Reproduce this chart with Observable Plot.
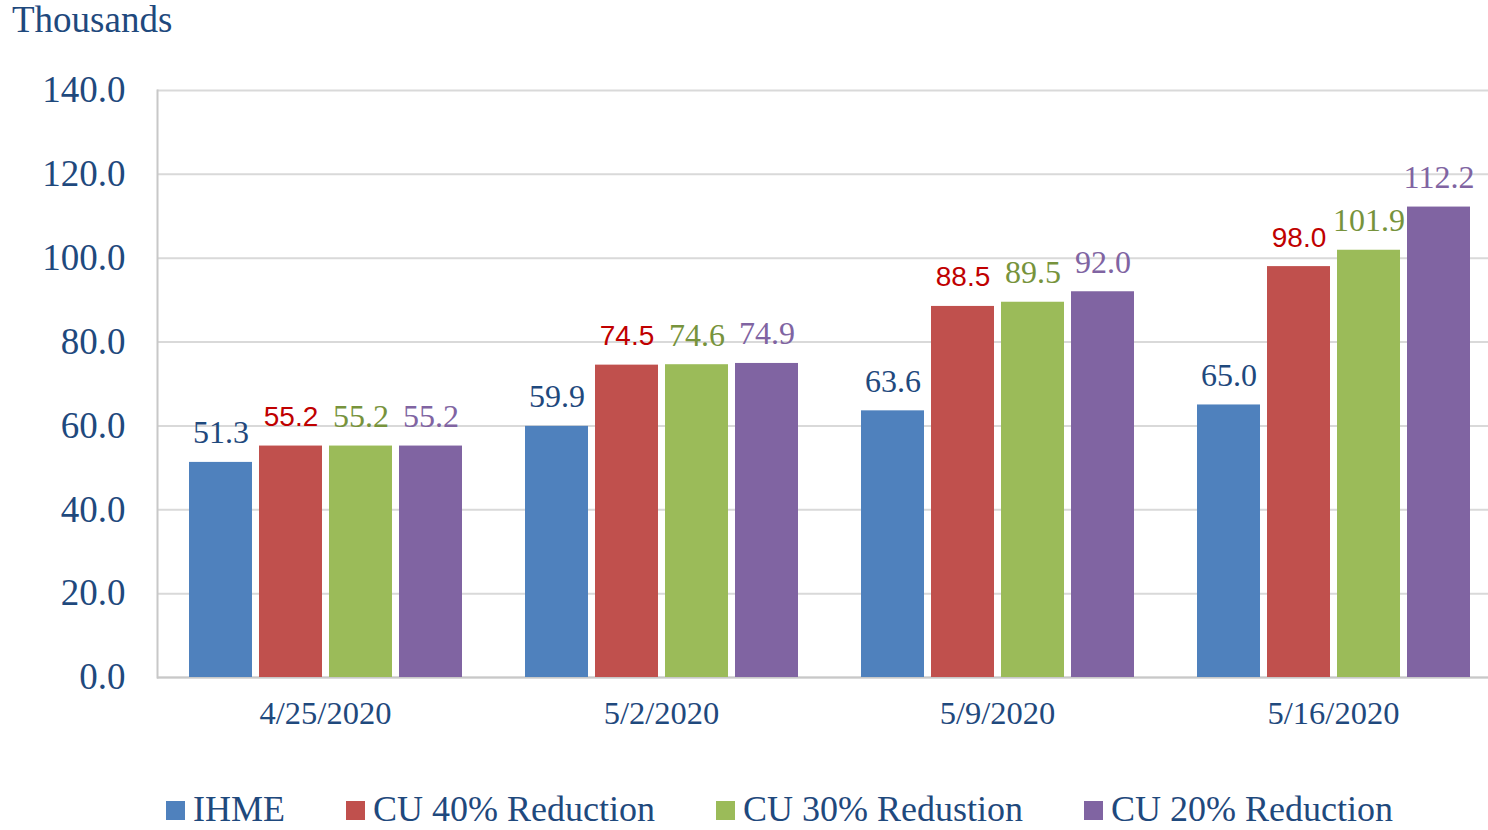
<!DOCTYPE html>
<html>
<head>
<meta charset="utf-8">
<script src="https://cdn.jsdelivr.net/npm/d3@7"></script>
<script src="https://cdn.jsdelivr.net/npm/@observablehq/plot@0.6"></script>
<style>
  html, body { margin: 0; padding: 0; background: #fff; overflow: hidden; }
  #wrap { position: relative; width: 1488px; height: 830px; overflow: hidden; font-family: "Liberation Serif", serif; color: #1F497D; }
  #unit { position: absolute; left: 12px; top: 1px; font-size: 37px; line-height: 1; }
  #chart { position: absolute; left: 0; top: 0; width: 1501px; }
  #chart svg { max-width: none !important; }
  #legend { position: absolute; left: 166px; top: 793px; display: flex; align-items: center; gap: 61px; font-size: 36px; line-height: 0.9; white-space: nowrap; }
  #legend .item { display: flex; align-items: center; }
  #legend .sw { width: 19px; height: 19px; margin-right: 8px; margin-top: 3px; }
</style>
</head>
<body>
<div id="wrap">
  <div id="chart"></div>
  <div id="unit">Thousands</div>
  <div id="legend"></div>
</div>
<script>
const dates = ["4/25/2020", "5/2/2020", "5/9/2020", "5/16/2020"];
const series = ["IHME", "CU 40% Reduction", "CU 30% Redustion", "CU 20% Reduction"];
const ihme = [51.3, 59.9, 63.6, 65.0];
const cu40 = [55.2, 74.5, 88.5, 98.0];
const cu30 = [55.2, 74.6, 89.5, 101.9];
const cu20 = [55.2, 74.9, 92.0, 112.2];
const yTicks = [0, 20, 40, 60, 80, 100, 120, 140];

const barColors = ["#4F81BD", "#C0504D", "#9BBB59", "#8064A2"];
const labelColors = ["#1F497D", "#C00000", "#77933C", "#8064A2"];
const labelFonts = ["Liberation Serif", "Liberation Sans", "Liberation Serif", "Liberation Serif"];
const labelSizes = [32, 28, 32, 32];
const labelDy = [-19, -20, -19, -19];

const valuesBySeries = [ihme, cu40, cu30, cu20];
const rows = [];
series.forEach((s, i) => dates.forEach((d, j) => rows.push({date: d, series: s, value: valuesBySeries[i][j]})));

const textColor = "#1F497D";
const gridColor = "#d9d9d9";
const axisLineColor = "#c8c8c8";

const labelMarks = series.map((s, i) => Plot.text(rows.filter(r => r.series === s), {
  fx: "date", x: "series", y: "value",
  text: d => d.value.toFixed(1),
  lineAnchor: "bottom", dy: labelDy[i],
  fill: labelColors[i], fontFamily: labelFonts[i], fontSize: labelSizes[i]
}));

const chart = Plot.plot({
  width: 1501,
  height: 760,
  marginLeft: 157,
  marginRight: 0,
  marginTop: 90,
  marginBottom: 83,
  style: {fontFamily: "Liberation Serif", background: "transparent", overflow: "visible", maxWidth: "none"},
  fx: {domain: dates, padding: 0, axis: null, label: null},
  x: {domain: series, paddingInner: 0.106, paddingOuter: 0.436, axis: null, label: null},
  y: {domain: [0, 140], ticks: yTicks, axis: null, label: null},
  color: {domain: series, range: barColors},
  marks: [
    Plot.gridY(yTicks, {stroke: gridColor, strokeOpacity: 1, strokeWidth: 2}),
    Plot.frame({anchor: "left", facetAnchor: "left", stroke: axisLineColor, strokeWidth: 2}),
    Plot.ruleY([0], {stroke: axisLineColor, strokeWidth: 2}),
    Plot.barY(rows, {fx: "date", x: "series", y: "value", fill: "series", inset: 0}),
    ...labelMarks,
    Plot.axisY(yTicks, {tickSize: 0, tickPadding: 32, fontSize: 37, fill: textColor, tickFormat: d3.format(".1f"), label: null}),
    Plot.axisFx({anchor: "bottom", tickSize: 0, tickPadding: 23, fontSize: 32.5, fill: textColor, label: null})
  ]
});
document.getElementById("chart").appendChild(chart);

const legend = document.getElementById("legend");
series.forEach((s, i) => {
  const item = document.createElement("div");
  item.className = "item";
  const sw = document.createElement("div");
  sw.className = "sw";
  sw.style.background = barColors[i];
  const t = document.createElement("span");
  t.textContent = s;
  item.appendChild(sw);
  item.appendChild(t);
  legend.appendChild(item);
});
</script>
</body>
</html>
